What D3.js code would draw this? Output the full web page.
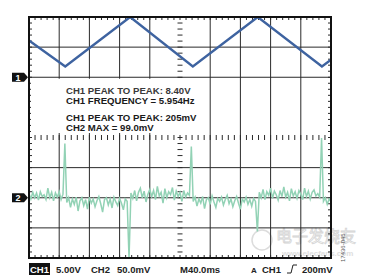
<!DOCTYPE html>
<html>
<head>
<meta charset="utf-8">
<script src="https://cdn.jsdelivr.net/npm/d3@7"></script>
<style>
  body { margin: 0; background: #fff; }
  svg { display: block; font-family: "Liberation Sans", Arial, sans-serif; }
</style>
</head>
<body>
<div id="scope"></div>
<script>
// Chart size
var svgWidth = 385;
var svgHeight = 280;

// plot area (scope screen)
var screen = { left: 29, top: 17, right: 331, bottom: 258 };

// CH1 triangle wave vertices: time (ms) and volts
var ch1Times = [0, 48, 134, 217, 303, 388, 400];
var ch1Volts = [6.1, 1.8, 10.0, 1.8, 10.0, 1.8, 2.9];

// CH2 noise trace, one sample each 2.5 ms, mV
var ch2Step = 2.5;
var ch2Values = [
  7, -2, 9, 0, 8, -4, 10, 2, 5, -3, 16, 0, 9, -5, 8, 1, 10, -3, 6,
  90,
  -8, 0, -16, -2, -11, 1, -22, -5, 0, -13, -3, -19, 1, -9, -2, -15, -5, 2, -10, -24, -3, 0, -12, -2, -17, 1, -7, -13, -1, -9, -20, -2, -6,
  -100,
  8, -1, 12, -5, 9, 16, 0, 11, -7, 6, 14, 2, 12, -3, 19, 3, 9, -9, 15, 0, 10, 5, 17, -4, 11, 2, 9, -6, 12, 1, 8, 4,
  85,
  -6, 1, -14, -2, -9, 2, -18, -3, 0, -11, 3, -7, -16, -1, -6, 1, -12, -3, 4, -10, -2, -15, -5, 2, -9, -19, -2, -7, 1, -11, -3, -14, -1, -6,
  -56,
  9, 0, 14, -3, 10, 4, 16, -1, 11, 5, -4, 12, 2, 18, 1, 9, -5, 15, 3, 10, -1, 12, 6, -3, 16, 2, 11, -2, 9, 13, 3, 7, 1,
  99,
  -6, 0, -11, -2, -7
];

// readouts
var measureLines = [
  "CH1 PEAK TO PEAK: 8.40V",
  "CH1 FREQUENCY = 5.954Hz",
  "CH1 PEAK TO PEAK: 205mV",
  "CH2 MAX = 99.0mV"
];
var ch1Scale = "5.00V";
var ch2Scale = "50.0mV";
var timeBase = "M40.0ms";
var trigLevel = "200mV";

var svg = d3.select("#scope")
  .append("svg")
  .attr("width", svgWidth)
  .attr("height", svgHeight);

// scales
var xScale = d3.scaleLinear().domain([0, 400]).range([screen.left, screen.right]);
var yCh1 = d3.scaleLinear().domain([-30, 10]).range([screen.bottom, screen.top]);
var yCh2 = d3.scaleLinear().domain([-100, 300]).range([screen.bottom, screen.top]);
var divX = d3.scaleLinear().domain([0, 10]).range([screen.left, screen.right]);
var divY = d3.scaleLinear().domain([0, 8]).range([screen.top, screen.bottom]);

svg.append("clipPath").attr("id", "clip")
  .append("rect")
  .attr("x", screen.left).attr("y", screen.top)
  .attr("width", screen.right - screen.left)
  .attr("height", screen.bottom - screen.top);

// watermark (faint, under everything)
svg.append("circle")
  .attr("cx", 262).attr("cy", 240).attr("r", 10)
  .attr("fill", "none").attr("stroke", "#dcdcdc").attr("stroke-width", 1.5);
svg.append("text")
  .attr("x", 276).attr("y", 242)
  .attr("font-family", "Noto Sans CJK SC")
  .attr("font-size", "16px")
  .attr("fill", "none")
  .attr("stroke", "#d4d4d4")
  .attr("stroke-width", 0.8)
  .text("电子发烧友");
svg.append("text")
  .attr("x", 282).attr("y", 256)
  .attr("font-size", "8px")
  .attr("font-weight", "bold")
  .attr("fill", "#dedede")
  .text("www.elecfans.com");

var grid = svg.append("g").attr("stroke", "#2a2a2a").attr("stroke-width", 1);

// vertical grid lines (centre line done with ticks)
[1, 2, 3, 4, 6, 7, 8, 9].forEach(function(i) {
  grid.append("line")
    .attr("x1", divX(i)).attr("x2", divX(i))
    .attr("y1", screen.top).attr("y2", screen.bottom);
});
// horizontal grid lines
[1, 2, 5, 6, 7].forEach(function(i) {
  grid.append("line")
    .attr("x1", screen.left).attr("x2", screen.right)
    .attr("y1", divY(i)).attr("y2", divY(i));
});

// minor ticks, 5 per division
var minorX = d3.range(0, 50.01, 1).map(d => d / 5);
var minorY = d3.range(0, 40.01, 1).map(d => d / 5);
minorX.forEach(function(d) {
  var x = divX(d);
  grid.append("line").attr("x1", x).attr("x2", x).attr("y1", screen.top).attr("y2", screen.top + 3);
  grid.append("line").attr("x1", x).attr("x2", x).attr("y1", screen.bottom - 3).attr("y2", screen.bottom);
  grid.append("line").attr("x1", x).attr("x2", x).attr("y1", divY(4) - 2.5).attr("y2", divY(4) + 2.5);
});
minorY.forEach(function(d) {
  var y = divY(d);
  grid.append("line").attr("x1", screen.left).attr("x2", screen.left + 3).attr("y1", y).attr("y2", y);
  grid.append("line").attr("x1", screen.right - 3).attr("x2", screen.right).attr("y1", y).attr("y2", y);
  grid.append("line").attr("x1", divX(5) - 2.5).attr("x2", divX(5) + 2.5).attr("y1", y).attr("y2", y);
});

// white box behind readouts
svg.append("rect")
  .attr("x", screen.left + 2).attr("y", divY(2) + 1.5)
  .attr("width", divX(6) - screen.left - 5)
  .attr("height", divY(4) - divY(2) - 6)
  .attr("fill", "#fff");

// CH2 trace
var ch2Line = d3.line()
  .x((d, i) => xScale(i * ch2Step))
  .y(d => yCh2(d));

svg.append("path")
  .datum(ch2Values)
  .attr("clip-path", "url(#clip)")
  .attr("d", ch2Line)
  .attr("fill", "none")
  .attr("stroke", "#92d2b5")
  .attr("stroke-width", 1.5);

// CH1 trace
var ch1Line = d3.line()
  .x((d, i) => xScale(ch1Times[i]))
  .y(d => yCh1(d));

svg.append("path")
  .datum(ch1Volts)
  .attr("clip-path", "url(#clip)")
  .attr("d", ch1Line)
  .attr("fill", "none")
  .attr("stroke", "#3e63a0")
  .attr("stroke-width", 2.4)
  .attr("stroke-linejoin", "miter");

// screen border
svg.append("rect")
  .attr("x", screen.left).attr("y", screen.top)
  .attr("width", screen.right - screen.left)
  .attr("height", screen.bottom - screen.top)
  .attr("fill", "none")
  .attr("stroke", "#111")
  .attr("stroke-width", 2);

// readout text
svg.append("g")
  .selectAll("text")
  .data(measureLines)
  .enter()
  .append("text")
  .attr("x", 66)
  .attr("y", (d, i) => [94, 104, 121, 131][i])
  .attr("font-size", "9.6px")
  .attr("font-weight", "bold")
  .attr("fill", (d, i) => i == 0 ? "#3a3a3a" : "#1a1a1a")
  .text(d => d);

// channel ground markers
function marker(y, label) {
  var g = svg.append("g");
  g.append("path")
    .attr("d", `M12,${y - 4.5} L24,${y - 4.5} L28,${y} L24,${y + 4.5} L12,${y + 4.5} Z`)
    .attr("fill", "#111");
  g.append("text")
    .attr("x", 18).attr("y", y + 3.5)
    .attr("text-anchor", "middle")
    .attr("font-size", "9px")
    .attr("font-weight", "bold")
    .attr("fill", "#fff")
    .text(label);
}
marker(yCh1(0), "1");
marker(yCh2(0), "2");

// bottom status line
var statusBar = svg.append("g").attr("font-size", "9.5px").attr("font-weight", "bold").attr("fill", "#222");
statusBar.append("rect").attr("x", 29).attr("y", 263).attr("width", 21).attr("height", 12).attr("fill", "#111");
statusBar.append("text").attr("x", 30).attr("y", 273).attr("fill", "#fff").text("CH1");
statusBar.append("text").attr("x", 56).attr("y", 273).text(ch1Scale);
statusBar.append("text").attr("x", 91).attr("y", 273).text("CH2");
statusBar.append("text").attr("x", 117).attr("y", 273).text(ch2Scale);
statusBar.append("text").attr("x", 180).attr("y", 273).text(timeBase);
statusBar.append("text").attr("x", 251).attr("y", 273).attr("font-size", "8px").text("A");
statusBar.append("text").attr("x", 262).attr("y", 273).text("CH1");
statusBar.append("path")
  .attr("d", "M287,273 L291,273 L293,265 L297,265")
  .attr("fill", "none").attr("stroke", "#222").attr("stroke-width", 1);
statusBar.append("text").attr("x", 302).attr("y", 273).text(trigLevel);

// figure number
svg.append("text")
  .attr("transform", "translate(345, 262) rotate(-90)")
  .attr("font-size", "6px")
  .attr("fill", "#555")
  .text("17436-045");
</script>
</body>
</html>
